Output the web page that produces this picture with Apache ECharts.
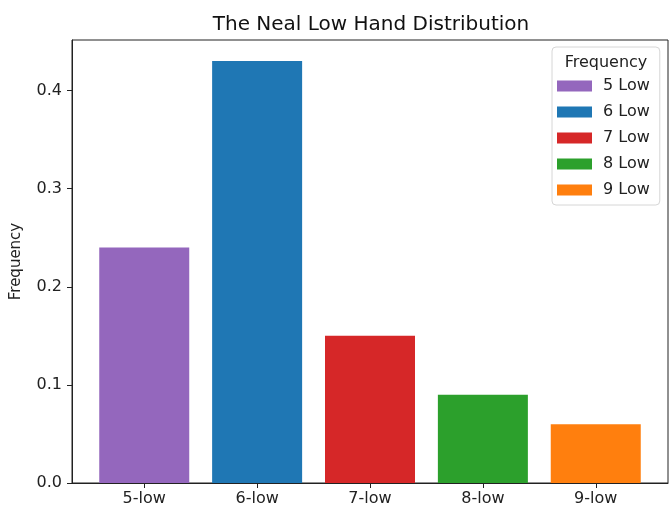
<!DOCTYPE html>
<html>
<head>
<meta charset="utf-8">
<script src="https://cdn.jsdelivr.net/npm/echarts@6/dist/echarts.min.js"></script>
<style>
  html, body { margin: 0; padding: 0; background: #fff; }
  #chart { width: 671px; height: 510px; }
</style>
</head>
<body>
<div id="chart"></div>
<script>
// Hand categories and their observed frequencies
const categories = ['5-low', '6-low', '7-low', '8-low', '9-low'];
const seriesNames = ['5 Low', '6 Low', '7 Low', '8 Low', '9 Low'];
const frequencies = [0.24, 0.43, 0.15, 0.09, 0.06];
const barColors = ['#9467bd', '#1f77b4', '#d62728', '#2ca02c', '#ff7f0e'];
const yTicks = [0, 0.1, 0.2, 0.3, 0.4];

const FONT = 'DejaVu Sans';
const chart = echarts.init(document.getElementById('chart'), null, { renderer: 'canvas' });

// Axis padding like a classic bar plot: bars are 0.8 wide with 5% margins
const xMin = -0.4 - 0.24, xMax = categories.length - 1 + 0.4 + 0.24;
const yMax = Math.max(...frequencies) * 1.05;
const xTickPos = categories.map((c, i) => i);

const series = frequencies.map((v, i) => ({
  name: seriesNames[i],
  type: 'bar',
  data: [[i, v]],
  barWidth: 90,
  barGap: '-100%',
  itemStyle: { color: barColors[i] },
  emphasis: { disabled: true }
}));

chart.setOption({
  animation: false,
  backgroundColor: '#fff',
  title: {
    text: 'The Neal Low Hand Distribution',
    left: 366,
    textAlign: 'center',
    top: 10,
    textStyle: { fontFamily: FONT, fontSize: 20, fontWeight: 'normal', color: '#111' }
  },
  grid: {
    left: 72, right: 3, top: 40, bottom: 27,
    show: true, borderColor: '#222', borderWidth: 1
  },
  legend: {
    orient: 'vertical',
    left: 552,
    top: 47,
    padding: [31, 10, 7, 5],
    itemWidth: 35,
    itemHeight: 11,
    itemGap: 10,
    icon: 'rect',
    backgroundColor: '#fff',
    borderColor: '#d6d6d6',
    borderWidth: 1,
    borderRadius: 4,
    textStyle: { fontFamily: FONT, fontSize: 16, lineHeight: 16, color: '#222', padding: [0, 0, 0, 6] },
    data: seriesNames
  },
  graphic: [{
    type: 'text',
    x: 606, y: 63, z: 100,
    style: {
      text: 'Frequency', fontFamily: FONT, fontSize: 16, fill: '#222',
      textAlign: 'center', textVerticalAlign: 'middle'
    }
  }],
  xAxis: {
    type: 'value',
    min: xMin, max: xMax,
    splitLine: { show: false },
    axisLine: { show: true, onZero: false, lineStyle: { color: '#222' } },
    axisTick: { show: true, length: 5, customValues: xTickPos, lineStyle: { color: '#222' } },
    axisLabel: {
      customValues: xTickPos,
      formatter: v => categories[Math.round(v)],
      fontFamily: FONT, fontSize: 16, color: '#222', margin: 8
    }
  },
  yAxis: {
    type: 'value',
    min: 0, max: yMax,
    name: 'Frequency',
    nameLocation: 'middle',
    nameGap: 48,
    nameTextStyle: { fontFamily: FONT, fontSize: 15, color: '#222' },
    splitLine: { show: false },
    axisLine: { show: true, onZero: false, lineStyle: { color: '#222' } },
    axisTick: { show: true, length: 5, customValues: yTicks, lineStyle: { color: '#222' } },
    axisLabel: {
      customValues: yTicks,
      formatter: v => v.toFixed(1),
      fontFamily: FONT, fontSize: 16, color: '#222', margin: 10
    }
  },
  series: series
});
</script>
</body>
</html>
